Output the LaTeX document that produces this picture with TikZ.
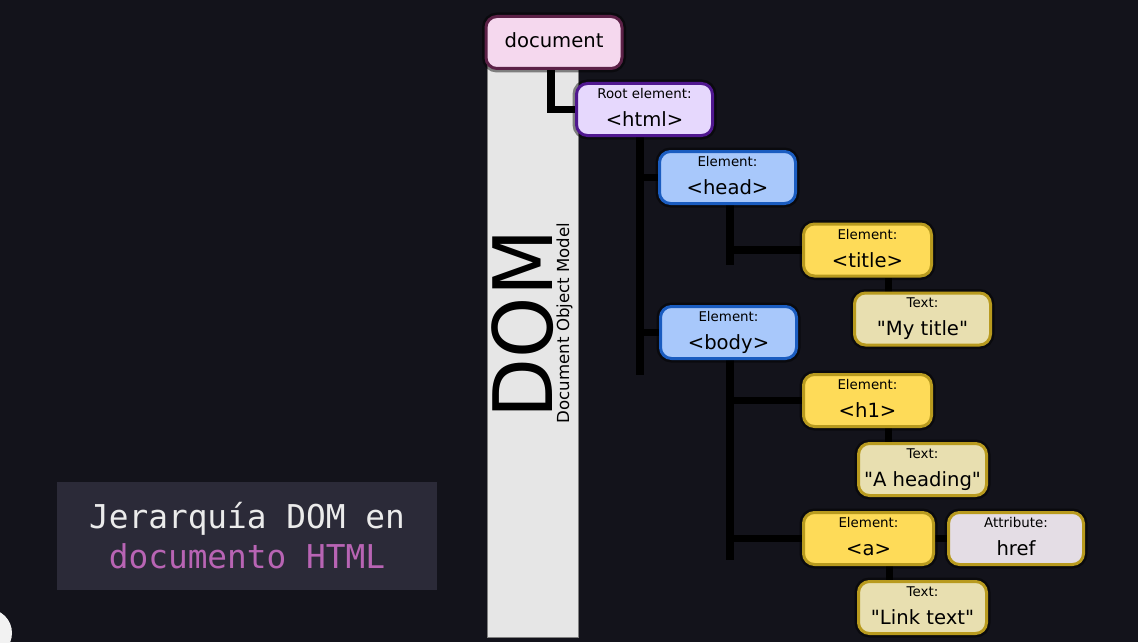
\documentclass[tikz,border=0pt]{standalone}
\usepackage{fontspec}
\setmainfont{DejaVu Sans}
\setmonofont{DejaVu Sans Mono}
\usetikzlibrary{backgrounds}
\definecolor{bgdark}{HTML}{13131B}
\definecolor{bargrey}{HTML}{E6E6E6}
\definecolor{docfill}{HTML}{F5D8EE}\definecolor{docline}{HTML}{5C2147}
\definecolor{htmlfill}{HTML}{E6D8FD}\definecolor{htmlline}{HTML}{50178F}
\definecolor{elfill}{HTML}{A8C8FB}\definecolor{elline}{HTML}{1A5CC0}
\definecolor{yelfill}{HTML}{FEDB58}\definecolor{yelline}{HTML}{B89A1E}
\definecolor{txtfill}{HTML}{E8DFB0}\definecolor{attrfill}{HTML}{E4DDE5}
\definecolor{titlefill}{HTML}{2B2A38}\definecolor{titlepink}{HTML}{B864B4}
\newcommand{\lbl}[1]{{\fontsize{6.7}{8}\selectfont #1}}
\newcommand{\domtxt}[2]{\lbl{#1}\\#2\vphantom{Hgy}}
\newcommand{\qq}[1]{\textquotedbl#1\textquotedbl}
\tikzset{
 domnode/.style={draw, rounded corners=5.5pt, line width=1.5pt, minimum width=68pt, minimum height=26pt,
   align=center, inner sep=0pt, font=\fontsize{9.8}{14}\selectfont,
   preaction={draw=black, opacity=.45, line width=4pt}},
 docnode/.style={domnode, fill=docfill, draw=docline},
 htmlnode/.style={domnode, fill=htmlfill, draw=htmlline},
 elnode/.style={domnode, fill=elfill, draw=elline},
 yelnode/.style={domnode, fill=yelfill, draw=yelline, minimum width=64pt},
 txtnode/.style={domnode, fill=txtfill, draw=yelline, minimum width=64pt},
 attrnode/.style={domnode, fill=attrfill, draw=yelline, minimum width=67.5pt},
 wire/.style={line width=3.6pt, black},
}
\begin{document}
\begin{tikzpicture}[x=.5pt,y=-.5pt]
\useasboundingbox (0,0) rectangle (1138,642);
% tree boxes
\node[docnode] (document) at (554,42.5) {document\vphantom{Hgy}};
\node[htmlnode] (html) at (644.5,109.5) {\domtxt{Root element:}{<html>}};
\node[elnode] (head) at (727.5,177.5) {\domtxt{Element:}{<head>}};
\node[elnode] (body) at (728.5,332.5) {\domtxt{Element:}{<body>}};
\node[yelnode] (title) at (867.5,250) {\domtxt{Element:}{<title>}};
\node[txtnode, minimum width=68pt] (mytitle) at (922.5,319) {\domtxt{Text:}{\qq{My title}}};
\node[yelnode] (h1) at (867.5,400.5) {\domtxt{Element:}{<h1>}};
\node[txtnode] (aheading) at (922.5,469.5) {\domtxt{Text:}{\qq{A heading}}};
\node[yelnode, minimum width=65pt] (a) at (868.5,538.5) {\domtxt{Element:}{<a>}};
\node[attrnode] (href) at (1016,538.5) {\domtxt{Attribute:}{href}};
\node[txtnode] (linktext) at (922.5,607.5) {\domtxt{Text:}{\qq{Link text}}};
% caption
\node[fill=titlefill, minimum width=190pt, minimum height=54pt, inner sep=0pt, align=center,
  text=white!92!black, font=\ttfamily\fontsize{16.4}{20}\selectfont] (caption) at (247,536)
  {Jerarquía DOM en\\\textcolor{titlepink}{documento HTML}};
\begin{scope}[on background layer]
\fill[bgdark] (0,0) rectangle (1138,642);
\fill[white!90!gray] (-12,633) circle (12pt);
\filldraw[fill=bargrey, draw=gray, line width=.5pt] (487,60) rectangle (578,637);
\node[rotate=90, anchor=base, inner sep=0pt, font=\fontsize{41}{41}\selectfont] (dom) at (552,324) {\scalebox{.95}[1]{DOM}};
\node[rotate=90, anchor=base, inner sep=0pt, font=\fontsize{8.3}{10}\selectfont] (dommodel) at (569,323) {Document Object Model};
% connectors
\coordinate (t0) at (551,108);
\coordinate (t1) at (640,375);
\coordinate (t2) at (730,265);
\coordinate (t3) at (730,560);
\draw[wire] (document.south -| t0) |- (html.west);
\draw[wire] (html.south -| t1) -- (t1);
\draw[wire] (head.south -| t2) -- (t2);
\draw[wire] (body.south -| t3) -- (t3);
\foreach \t/\n in {t1/head, t1/body, t2/title, t3/h1, t3/a} \draw[wire] (\t |- \n.west) -- (\n.west);
\foreach \p/\c in {title/mytitle, h1/aheading, a/linktext} \draw[wire] ([xshift=10.5pt]\p.south) -- ([xshift=10.5pt]\p.south |- \c.north);
\draw[wire] (a.east) -- (href.west);
\end{scope}
\end{tikzpicture}
\end{document}
